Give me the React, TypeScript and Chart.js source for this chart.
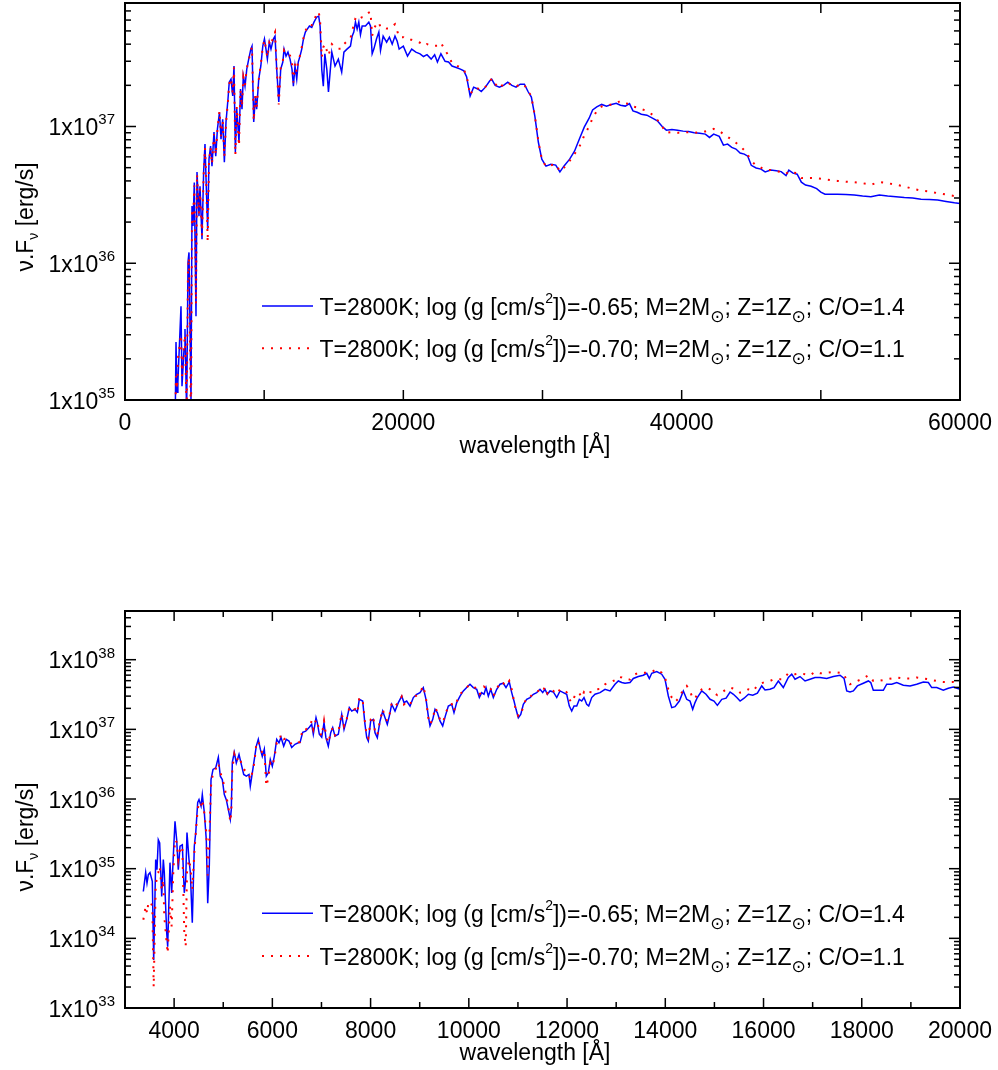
import React, { useEffect, useRef } from 'react';
import { Chart, registerables } from 'chart.js';

Chart.register(...registerables);

const FONT = '"Liberation Sans", Arial, Helvetica, sans-serif';
const SYM_FONT = '"DejaVu Sans", "Liberation Sans", sans-serif';

// ---- Upper panel: 0 - 60000 Å. Flux νFν in units of 1e37 erg/s ----
const topWave = [
  3600, 3665, 3740, 3800, 4024, 4096, 4240, 4311, 4430, 4527, 4599, 4742, 4814, 4886, 4980, 5102,
  5174, 5317, 5389, 5533, 5650, 5748, 5840, 5940, 6036, 6150, 6251, 6395, 6520, 6640, 6790, 6898,
  7020, 7140, 7257, 7401, 7490, 7617, 7740, 7832, 7930, 8030, 8192, 8300, 8407, 8500, 8623, 8750,
  8890, 9040, 9126, 9250, 9370, 9460, 9610, 9760, 9900, 10020, 10130, 10230, 10370, 10490, 10660, 10780,
  10900, 11050, 11190, 11340, 11430, 11570, 11710, 11860, 12000, 12100, 12216, 12340, 12450, 12575, 12700, 12820,
  12960, 13100, 13250, 13420, 13580, 13770, 13920, 14020, 14140, 14250, 14360, 14500, 14620, 14860, 15090, 15330,
  15570, 15730, 15950, 16200, 16320, 16440, 16560, 16680, 16800, 16920, 17040, 17280, 17520, 17640, 17760, 17880,
  18070, 18240, 18360, 18550, 18800, 19000, 19200, 19400, 19560, 19700, 20000, 20300, 20600, 20900, 21200, 21450,
  21700, 22000, 22250, 22450, 22700, 23000, 23250, 23500, 23800, 24100, 24350, 24550, 24800, 25050, 25350, 25600,
  25900, 26200, 26350, 26600, 26900, 27200, 27500, 27800, 28100, 28400, 28700, 28950, 29200, 29450, 29700, 29950,
  30250, 30600, 30950, 31250, 31550, 31950, 32300, 32650, 33000, 33350, 33600, 33900, 34250, 34600, 34950, 35300,
  35600, 35950, 36250, 36500, 36800, 37100, 37500, 37900, 38250, 38600, 38900, 39300, 39700, 40100, 40500, 40900,
  41300, 41700, 42000, 42300, 42700, 43000, 43300, 43600, 43900, 44200, 44500, 44750, 45000, 45350, 45700, 46000,
  46400, 46800, 47150, 47500, 47700, 48000, 48300, 48600, 48900, 49300, 49700, 50000, 50300, 50700, 51200, 51800,
  52400, 53000, 53600, 54200, 54800, 55400, 56000, 56600, 57200, 57800, 58400, 59000, 59600, 60000,
];
// T=2800K, log g=-0.65, C/O=1.4
const topFluxA = [
  0.006, 0.0265, 0.0114, 0.0135, 0.0485, 0.0126, 0.0235, 0.033, 0.008, 0.102, 0.12, 0.01, 0.262, 0.187, 0.39, 0.041,
  0.464, 0.221, 0.366, 0.15, 0.464, 0.744, 0.366, 0.177, 0.577, 0.72, 0.513, 0.91, 0.607, 0.957, 1.27, 0.809,
  1.13, 0.549, 1.08, 1.59, 2.11, 2.22, 1.67, 2.77, 0.65, 1.34, 0.769, 1.88, 1.34, 2.34, 1.97, 2.63,
  3.11, 3.68, 3.87, 1.08, 1.67, 1.34, 2.22, 2.77, 3.87, 4.36, 3.68, 3.11, 4.14, 3.68, 4.36, 4.58,
  2.63, 1.51, 2.63, 2.96, 3.68, 3.27, 3.5, 3.11, 2.63, 1.97, 2.77, 2.22, 2.96, 3.27, 3.68, 4.36,
  4.9, 5.16, 5.43, 5.3, 5.8, 6.3, 6.42, 5.4, 2.6, 1.97, 3.4, 2.63, 1.79, 3.5, 2.77, 3.11,
  2.5, 3.5, 3.68, 3.87, 4.58, 4.9, 5.8, 5.16, 5.8, 4.7, 5.43, 5.43, 5.8, 5.43, 3.4, 3.68,
  4.36, 4.9, 3.6, 4.58, 4.14, 4.5, 4.0, 4.58, 4.2, 3.68, 3.87, 3.27, 3.68, 3.5, 3.4, 3.25,
  3.35, 3.11, 3.35, 2.96, 3.4, 3.0, 2.96, 2.77, 2.7, 2.63, 2.55, 2.3, 1.67, 1.94, 1.88, 1.8,
  1.94, 2.15, 2.22, 2.0, 1.94, 2.0, 2.11, 2.0, 1.94, 2.04, 2.04, 1.81, 1.64, 1.19, 0.77, 0.577,
  0.513, 0.53, 0.522, 0.466, 0.515, 0.577, 0.66, 0.81, 0.99, 1.15, 1.32, 1.39, 1.45, 1.41, 1.45, 1.48,
  1.43, 1.41, 1.47, 1.3, 1.27, 1.23, 1.21, 1.15, 1.1, 1.0, 0.94, 0.95, 0.94, 0.925, 0.918, 0.9,
  0.894, 0.88, 0.832, 0.88, 0.846, 0.73, 0.744, 0.703, 0.684, 0.64, 0.628, 0.607, 0.52, 0.497, 0.488, 0.466,
  0.48, 0.474, 0.468, 0.437, 0.48, 0.456, 0.448, 0.392, 0.373, 0.366, 0.351, 0.331, 0.32, 0.32, 0.32, 0.318,
  0.315, 0.31, 0.307, 0.315, 0.31, 0.307, 0.302, 0.3, 0.294, 0.292, 0.29, 0.283, 0.277, 0.274,
];
// T=2800K, log g=-0.70, C/O=1.1
const topFluxB = [
  0.006, 0.015, 0.012, 0.02, 0.03, 0.015, 0.025, 0.03, 0.008, 0.09, 0.11, 0.006, 0.25, 0.2, 0.37, 0.05,
  0.45, 0.23, 0.35, 0.16, 0.44, 0.7, 0.4, 0.143, 0.55, 0.7, 0.53, 0.88, 0.62, 0.94, 1.3, 0.85,
  1.1, 0.6, 1.05, 1.55, 2.05, 2.25, 1.75, 2.7, 0.62, 1.4, 0.72, 1.85, 1.4, 2.3, 2.0, 2.65,
  3.05, 3.6, 3.8, 1.1, 1.7, 1.36, 2.2, 2.85, 3.8, 4.3, 3.7, 3.2, 4.1, 3.9, 4.6, 4.9,
  2.7, 1.45, 2.7, 3.0, 3.6, 3.4, 3.4, 3.3, 2.9, 2.1, 2.9, 2.5, 3.1, 3.3, 3.8, 4.4,
  5.0, 5.3, 5.6, 5.5, 6.0, 6.6, 6.9, 5.9, 3.2, 3.8, 4.0, 3.6, 3.3, 4.0, 3.8, 3.7,
  3.7, 4.0, 4.2, 4.4, 5.0, 5.5, 6.2, 6.4, 6.4, 6.2, 6.3, 6.4, 6.8, 6.9, 4.6, 5.2,
  5.6, 5.8, 5.3, 5.3, 5.2, 5.2, 5.4, 5.6, 5.0, 4.5, 4.5, 4.3, 4.3, 4.2, 4.1, 3.9,
  4.0, 3.9, 3.9, 3.9, 4.1, 3.6, 3.3, 2.9, 2.8, 2.7, 2.6, 2.35, 1.7, 1.9, 1.9, 1.85,
  1.95, 2.1, 2.25, 2.05, 1.9, 2.05, 2.1, 2.0, 1.95, 2.05, 2.0, 1.85, 1.65, 1.2, 0.78, 0.58,
  0.51, 0.52, 0.53, 0.47, 0.5, 0.56, 0.63, 0.71, 0.86, 1.0, 1.15, 1.3, 1.4, 1.42, 1.45, 1.48,
  1.54, 1.48, 1.46, 1.4, 1.38, 1.34, 1.3, 1.22, 1.12, 1.0, 0.9, 0.91, 0.9, 0.9, 0.91, 0.9,
  0.91, 0.92, 0.93, 0.96, 0.93, 0.88, 0.84, 0.8, 0.76, 0.72, 0.67, 0.62, 0.56, 0.52, 0.5, 0.48,
  0.48, 0.47, 0.465, 0.45, 0.47, 0.46, 0.455, 0.42, 0.42, 0.42, 0.418, 0.415, 0.41, 0.405, 0.4, 0.395,
  0.392, 0.385, 0.375, 0.392, 0.385, 0.375, 0.365, 0.35, 0.34, 0.335, 0.325, 0.318, 0.31, 0.303,
];

// ---- Lower panel: 3000 - 20000 Å. Flux νFν in units of 1e37 erg/s ----
const botWave = [
  3373, 3421, 3448, 3475, 3509, 3556, 3584, 3625, 3651, 3678, 3706, 3747, 3780, 3800, 3849, 3869,
  3916, 3950, 3983, 4018, 4052, 4085, 4120, 4167, 4207, 4236, 4262, 4303, 4330, 4370, 4411, 4440,
  4480, 4507, 4548, 4574, 4615, 4655, 4684, 4716, 4751, 4792, 4847, 4900, 4940, 4981, 5022, 5062,
  5103, 5144, 5164, 5185, 5225, 5266, 5321, 5368, 5417, 5470, 5525, 5551, 5592, 5633, 5673, 5714,
  5755, 5795, 5836, 5877, 5918, 5958, 5999, 6040, 6089, 6135, 6176, 6231, 6284, 6339, 6394, 6461,
  6528, 6563, 6618, 6679, 6752, 6801, 6834, 6889, 6915, 6956, 7005, 7052, 7090, 7139, 7188, 7229,
  7276, 7343, 7412, 7459, 7514, 7567, 7616, 7683, 7730, 7770, 7839, 7886, 7921, 7953, 8002, 8055,
  8090, 8137, 8192, 8247, 8294, 8340, 8381, 8430, 8497, 8565, 8634, 8680, 8735, 8803, 8870, 8939,
  9006, 9073, 9128, 9175, 9210, 9265, 9312, 9359, 9413, 9468, 9521, 9583, 9652, 9698, 9753, 9821,
  9888, 9957, 10024, 10091, 10161, 10214, 10262, 10309, 10350, 10397, 10446, 10499, 10568, 10635, 10702, 10757,
  10824, 10873, 10920, 10961, 11008, 11057, 11110, 11178, 11246, 11313, 11382, 11449, 11504, 11551, 11598, 11653,
  11720, 11790, 11857, 11924, 11993, 12046, 12095, 12142, 12197, 12250, 12299, 12345, 12400, 12441, 12502, 12569,
  12671, 12773, 12875, 12976, 13044, 13113, 13180, 13282, 13349, 13451, 13553, 13622, 13675, 13724, 13826, 13927,
  13994, 14062, 14131, 14198, 14286, 14367, 14436, 14503, 14558, 14605, 14652, 14742, 14829, 14911, 14992, 15060,
  15150, 15238, 15319, 15387, 15456, 15523, 15605, 15692, 15781, 15875, 15963, 16030, 16132, 16213, 16301, 16403,
  16505, 16574, 16641, 16743, 16845, 16947, 17049, 17150, 17286, 17422, 17557, 17639, 17694, 17761, 17829, 17910,
  18032, 18134, 18183, 18235, 18337, 18439, 18508, 18610, 18712, 18846, 18983, 19118, 19254, 19356, 19424, 19526,
  19660, 19762, 19864, 20000,
];
// T=2800K, log g=-0.65, C/O=1.4
const botFluxA = [
  0.0047, 0.0088, 0.0062, 0.0082, 0.0088, 0.0066, 0.00049, 0.0135, 0.0097, 0.026, 0.0235, 0.004, 0.0135, 0.0088, 0.0012, 0.00076,
  0.0122, 0.00447, 0.015, 0.048, 0.026, 0.0097, 0.021, 0.022, 0.0045, 0.00695, 0.033, 0.0135, 0.0088, 0.00167, 0.021, 0.0326,
  0.089, 0.098, 0.079, 0.116, 0.064, 0.026, 0.0032, 0.0108, 0.19, 0.266, 0.28, 0.396, 0.213, 0.19, 0.116, 0.098,
  0.071, 0.051, 0.071, 0.335, 0.467, 0.33, 0.437, 0.314, 0.225, 0.213, 0.225, 0.153, 0.238, 0.37, 0.575, 0.72,
  0.52, 0.41, 0.52, 0.213, 0.238, 0.37, 0.296, 0.41, 0.72, 0.64, 0.767, 0.575, 0.72, 0.68, 0.55, 0.61,
  0.64, 0.644, 0.905, 0.94, 1.07, 1.18, 0.85, 1.47, 1.25, 0.85, 0.77, 1.25, 0.76, 0.575, 0.896, 1.06,
  0.8, 0.85, 1.64, 1.0, 1.39, 2.05, 1.83, 1.94, 1.76, 2.7, 2.55, 1.18, 0.76, 0.68, 1.32, 1.39,
  0.896, 0.76, 1.32, 1.83, 1.47, 1.18, 1.55, 2.29, 1.83, 2.42, 3.0, 2.42, 2.55, 2.16, 2.86, 3.19,
  3.37, 3.98, 2.7, 1.55, 1.12, 1.39, 1.94, 1.74, 1.32, 1.12, 1.55, 2.16, 2.29, 1.74, 2.42, 3.0,
  3.56, 3.98, 4.44, 3.98, 3.76, 2.86, 3.37, 3.19, 3.98, 3.0, 3.76, 2.86, 3.76, 4.44, 4.59, 3.98,
  4.79, 3.37, 2.55, 1.94, 1.47, 1.64, 2.29, 2.7, 2.86, 3.19, 3.37, 3.76, 3.37, 3.76, 3.19, 3.56,
  3.44, 2.86, 3.56, 3.37, 3.19, 2.16, 1.83, 2.16, 2.16, 2.7, 2.55, 2.86, 2.29, 2.16, 2.86, 3.19,
  3.37, 3.76, 3.56, 4.44, 4.95, 4.7, 4.59, 4.7, 5.38, 5.73, 5.98, 6.38, 5.38, 6.38, 6.77, 6.19,
  5.24, 3.01, 2.05, 2.12, 2.55, 3.56, 2.7, 2.55, 1.94, 2.42, 2.86, 3.56, 3.19, 2.7, 2.55, 2.21,
  2.7, 2.8, 3.44, 3.19, 2.86, 2.55, 2.8, 3.19, 3.1, 3.3, 4.2, 3.67, 3.76, 3.98, 4.95, 3.98,
  5.55, 6.19, 5.24, 5.73, 4.95, 5.24, 5.55, 5.55, 5.38, 5.73, 5.98, 5.38, 3.56, 3.44, 3.56, 4.2,
  4.59, 4.95, 4.7, 3.64, 3.64, 3.64, 4.44, 4.44, 4.7, 4.3, 4.2, 4.44, 4.79, 4.7, 3.98, 3.98,
  3.64, 3.89, 4.06, 3.76,
];
// T=2800K, log g=-0.70, C/O=1.1
const botFluxB = [
  0.00185, 0.0029, 0.0023, 0.0032, 0.0034, 0.0029, 0.0002, 0.0056, 0.0077, 0.0088, 0.0108, 0.005, 0.00695, 0.00206, 0.00085, 0.00061,
  0.0029, 0.00148, 0.0088, 0.026, 0.024, 0.0135, 0.0187, 0.021, 0.0012, 0.00076, 0.0088, 0.0135, 0.0108, 0.005, 0.0168, 0.032,
  0.071, 0.088, 0.08, 0.098, 0.063, 0.033, 0.008, 0.026, 0.153, 0.238, 0.27, 0.33, 0.24, 0.2, 0.153, 0.11,
  0.079, 0.047, 0.065, 0.266, 0.44, 0.35, 0.41, 0.33, 0.266, 0.25, 0.23, 0.19, 0.24, 0.33, 0.61, 0.68,
  0.54, 0.46, 0.5, 0.153, 0.2, 0.33, 0.3, 0.38, 0.64, 0.65, 0.85, 0.72, 0.75, 0.69, 0.61, 0.62,
  0.65, 0.66, 1.02, 1.0, 1.09, 1.32, 1.0, 1.39, 1.3, 0.94, 0.8, 1.32, 0.85, 0.64, 0.9, 1.05,
  0.82, 0.9, 1.7, 1.12, 1.4, 2.05, 1.85, 1.95, 1.74, 2.86, 2.6, 1.25, 0.8, 0.75, 1.39, 1.55,
  0.9, 0.82, 1.35, 1.94, 1.5, 1.32, 1.55, 2.42, 2.16, 2.4, 2.95, 2.29, 2.5, 2.29, 2.8, 3.1,
  3.4, 4.2, 2.8, 1.47, 1.18, 1.4, 2.05, 1.8, 1.39, 1.25, 1.6, 2.2, 2.3, 1.83, 2.5, 3.19,
  3.6, 4.0, 4.4, 4.2, 3.8, 3.19, 3.4, 4.1, 3.9, 4.2, 3.8, 3.0, 3.76, 4.79, 4.6, 4.2,
  4.95, 3.76, 2.55, 1.83, 1.55, 1.6, 2.16, 2.86, 2.9, 3.3, 3.4, 3.76, 3.5, 4.1, 3.3, 3.76,
  3.56, 3.19, 3.76, 3.76, 3.4, 2.7, 2.42, 2.86, 3.37, 3.3, 2.86, 3.44, 3.19, 3.44, 3.4, 3.76,
  3.8, 4.44, 4.7, 5.1, 5.7, 5.55, 5.24, 5.2, 5.98, 6.5, 6.5, 6.5, 6.5, 6.7, 7.3, 6.5,
  5.55, 3.76, 2.86, 2.47, 2.86, 3.76, 4.2, 3.56, 2.76, 2.76, 3.19, 3.76, 3.98, 3.76, 3.3, 3.1,
  3.37, 3.76, 3.98, 3.85, 3.67, 3.37, 3.44, 3.76, 3.56, 4.2, 4.59, 4.79, 4.95, 5.24, 5.24, 5.24,
  6.38, 6.19, 6.19, 6.38, 6.19, 5.98, 6.7, 6.38, 6.5, 6.7, 6.5, 6.19, 4.95, 4.44, 4.7, 4.95,
  5.38, 5.98, 5.55, 4.95, 4.95, 5.1, 5.24, 5.38, 5.55, 5.38, 5.38, 5.55, 5.38, 5.24, 5.1, 4.95,
  4.79, 4.79, 4.79, 4.59,
];

// ---- axis ticks ----
const topXMajor = [0, 10000, 20000, 30000, 40000, 50000, 60000];
const topXMinor: number[] = [];
const topXLabels = [0, 20000, 40000, 60000];
const topDecades = [35, 36, 37];

const botXMajor = [4000, 6000, 8000, 10000, 12000, 14000, 16000, 18000, 20000];
const botXMinor = [3000, 5000, 7000, 9000, 11000, 13000, 15000, 17000, 19000];
const botXLabels = [4000, 6000, 8000, 10000, 12000, 14000, 16000, 18000, 20000];
const botDecades = [33, 34, 35, 36, 37, 38];

// ---- rich text pieces ----
type Seg = { t: string; kind?: 'sup' | 'sub' };
const legendA: Seg[] = [
  { t: 'T=2800K; log (g [cm/s' }, { t: '2', kind: 'sup' }, { t: '])=-0.65; M=2M' }, { t: '\u2299', kind: 'sub' },
  { t: '; Z=1Z' }, { t: '\u2299', kind: 'sub' }, { t: '; C/O=1.4' },
];
const legendB: Seg[] = [
  { t: 'T=2800K; log (g [cm/s' }, { t: '2', kind: 'sup' }, { t: '])=-0.70; M=2M' }, { t: '\u2299', kind: 'sub' },
  { t: '; Z=1Z' }, { t: '\u2299', kind: 'sub' }, { t: '; C/O=1.1' },
];
const yTitle: Seg[] = [{ t: '\u03bd.F' }, { t: '\u03bd', kind: 'sub' }, { t: ' [erg/s]' }];
const xTitle = 'wavelength [\u00c5]';

const BLUE = '#0000ff';
const RED = '#ff0000';
const RED_DASH = [2, 7];

function segFont(kind: Seg['kind'], big: number, forLegend: boolean) {
  if (kind === 'sup') return `14px ${FONT}`;
  if (kind === 'sub') return forLegend ? `17px ${SYM_FONT}` : `14px ${FONT}`;
  return `${big}px ${FONT}`;
}
function segShift(kind: Seg['kind'], forLegend: boolean) {
  if (kind === 'sup') return -12;
  if (kind === 'sub') return forLegend ? 7 : 5;
  return 0;
}
function segsWidth(ctx: CanvasRenderingContext2D, segs: Seg[], big: number, forLegend: boolean) {
  let w = 0;
  for (const s of segs) {
    ctx.font = segFont(s.kind, big, forLegend);
    w += ctx.measureText(s.t).width;
  }
  return w;
}
function drawSegs(ctx: CanvasRenderingContext2D, segs: Seg[], x: number, base: number, big: number, forLegend: boolean) {
  let cx = x;
  ctx.textAlign = 'left';
  ctx.textBaseline = 'alphabetic';
  for (const s of segs) {
    ctx.font = segFont(s.kind, big, forLegend);
    ctx.fillText(s.t, cx, base + segShift(s.kind, forLegend));
    cx += ctx.measureText(s.t).width;
  }
}

type Panel = {
  canvasTop: number; height: number; padTop: number; axisH: number;
  xMin: number; xMax: number; yMin: number; yMax: number;
  wave: number[]; fluxA: number[]; fluxB: number[];
  xMajor: number[]; xMinor: number[]; xLabels: number[]; decades: number[];
  titleBase: number; yTitleMid: number; legendRows: number[];
};

const panels: Panel[] = [
  {
    canvasTop: 0, height: 470, padTop: 3, axisH: 70,
    xMin: 0, xMax: 60000, yMin: 1e35, yMax: 8e37,
    wave: topWave, fluxA: topFluxA, fluxB: topFluxB,
    xMajor: topXMajor, xMinor: topXMinor, xLabels: topXLabels, decades: topDecades,
    titleBase: 453, yTitleMid: 217, legendRows: [306, 348.3],
  },
  {
    canvasTop: 520, height: 550, padTop: 91, axisH: 62,
    xMin: 3000, xMax: 20000, yMin: 1e33, yMax: 5e38,
    wave: botWave, fluxA: botFluxA, fluxB: botFluxB,
    xMajor: botXMajor, xMinor: botXMinor, xLabels: botXLabels, decades: botDecades,
    titleBase: 540, yTitleMid: 317, legendRows: [393.3, 436],
  },
];

function framePlugin(p: Panel) {
  return {
    id: 'frameAndText',
    afterDraw(chart: any) {
      const { ctx, chartArea: a, scales } = chart;
      const xs = scales.x;
      const ys = scales.y;
      ctx.save();
      ctx.strokeStyle = '#000';
      ctx.fillStyle = '#000';

      // inward ticks on all four sides
      ctx.lineWidth = 1.5;
      const tick = (x1: number, y1: number, x2: number, y2: number) => {
        ctx.beginPath();
        ctx.moveTo(x1, y1);
        ctx.lineTo(x2, y2);
        ctx.stroke();
      };
      const xTick = (v: number, len: number) => {
        const px = xs.getPixelForValue(v);
        tick(px, a.bottom, px, a.bottom - len);
        tick(px, a.top, px, a.top + len);
      };
      p.xMajor.forEach((v) => xTick(v, 10));
      p.xMinor.forEach((v) => xTick(v, 6));
      for (const d of p.decades.concat([p.decades[p.decades.length - 1] + 1])) {
        for (let k = 1; k <= 9; k++) {
          const v = k * Math.pow(10, d);
          if (v < p.yMin * 0.999 || v > p.yMax * 1.001) continue;
          const py = ys.getPixelForValue(v);
          const len = k === 1 ? 11 : 6;
          tick(a.left, py, a.left + len, py);
          tick(a.right, py, a.right - len, py);
        }
      }

      // box
      ctx.lineWidth = 2;
      ctx.strokeRect(a.left, a.top, a.right - a.left, a.bottom - a.top);

      // x tick labels
      ctx.font = `23px ${FONT}`;
      ctx.textAlign = 'center';
      ctx.textBaseline = 'alphabetic';
      for (const v of p.xLabels) {
        ctx.fillText(String(v), xs.getPixelForValue(v), a.bottom + 29.5);
      }

      // y tick labels: 1x10^n
      for (const d of p.decades) {
        const py = ys.getPixelForValue(Math.pow(10, d));
        ctx.font = `23px ${FONT}`;
        const mainW = ctx.measureText('1x10').width;
        ctx.font = `15px ${FONT}`;
        const supW = ctx.measureText(String(d)).width;
        const x0 = 115 - mainW - supW;
        ctx.textAlign = 'left';
        ctx.font = `23px ${FONT}`;
        ctx.fillText('1x10', x0, py + 8.5);
        ctx.font = `15px ${FONT}`;
        ctx.fillText(String(d), x0 + mainW, py - 2);
      }

      // axis titles
      ctx.font = `23px ${FONT}`;
      ctx.textAlign = 'center';
      ctx.fillText(xTitle, 535, p.titleBase);

      ctx.save();
      ctx.translate(33, p.yTitleMid);
      ctx.rotate(-Math.PI / 2);
      const tw = segsWidth(ctx, yTitle, 23, false);
      drawSegs(ctx, yTitle, -tw / 2, 0, 23, false);
      ctx.restore();

      // legend
      const rows: [Seg[], string, number[]][] = [
        [legendA, BLUE, []],
        [legendB, RED, RED_DASH],
      ];
      rows.forEach(([segs, color, dash], i) => {
        const yl = p.legendRows[i];
        ctx.save();
        ctx.strokeStyle = color;
        ctx.lineWidth = color === BLUE ? 1.5 : 2;
        ctx.setLineDash(dash);
        ctx.beginPath();
        ctx.moveTo(262, yl);
        ctx.lineTo(313, yl);
        ctx.stroke();
        ctx.restore();
        ctx.fillStyle = '#000';
        drawSegs(ctx, segs, 319.5, yl + 8.5, 23, true);
      });

      ctx.restore();
    },
  };
}

function SpectrumPanel({ p }: { p: Panel }) {
  const ref = useRef<HTMLCanvasElement | null>(null);
  useEffect(() => {
    if (!ref.current) return;
    const ptsA = p.wave.map((w, i) => ({ x: w, y: p.fluxA[i] * 1e37 }));
    const ptsB = p.wave.map((w, i) => ({ x: w, y: p.fluxB[i] * 1e37 }));
    const chart = new Chart(ref.current, {
      type: 'line',
      data: {
        datasets: [
          {
            label: 'C/O=1.1',
            data: ptsB,
            borderColor: RED,
            borderWidth: 2,
            borderDash: RED_DASH,
            pointRadius: 0,
            tension: 0,
            fill: false,
            order: 0,
          },
          {
            label: 'C/O=1.4',
            data: ptsA,
            borderColor: BLUE,
            borderWidth: 1.5,
            pointRadius: 0,
            tension: 0,
            fill: false,
            order: 1,
          },
        ],
      },
      options: {
        responsive: false,
        maintainAspectRatio: false,
        animation: false,
        devicePixelRatio: 1,
        events: [],
        layout: { padding: { left: 0, right: 38, top: p.padTop, bottom: 0 } },
        plugins: { legend: { display: false }, title: { display: false }, tooltip: { enabled: false } },
        scales: {
          x: {
            type: 'linear',
            min: p.xMin,
            max: p.xMax,
            ticks: { display: false },
            grid: { display: false },
            border: { display: false },
            afterFit: (s: any) => { s.height = p.axisH; },
          },
          y: {
            type: 'logarithmic',
            min: p.yMin,
            max: p.yMax,
            ticks: { display: false },
            grid: { display: false },
            border: { display: false },
            afterFit: (s: any) => { s.width = 125; },
          },
        },
      },
      plugins: [framePlugin(p)],
    } as any);
    return () => chart.destroy();
  }, [p]);
  return (
    <canvas
      ref={ref}
      width={998}
      height={p.height}
      style={{ position: 'absolute', left: 0, top: p.canvasTop, width: 998, height: p.height, display: 'block' }}
    />
  );
}

export default function App() {
  return (
    <div style={{ position: 'absolute', left: 0, top: 0, width: 998, height: 1070, background: '#fff', overflow: 'hidden' }}>
      {panels.map((p, i) => (
        <SpectrumPanel key={i} p={p} />
      ))}
    </div>
  );
}
